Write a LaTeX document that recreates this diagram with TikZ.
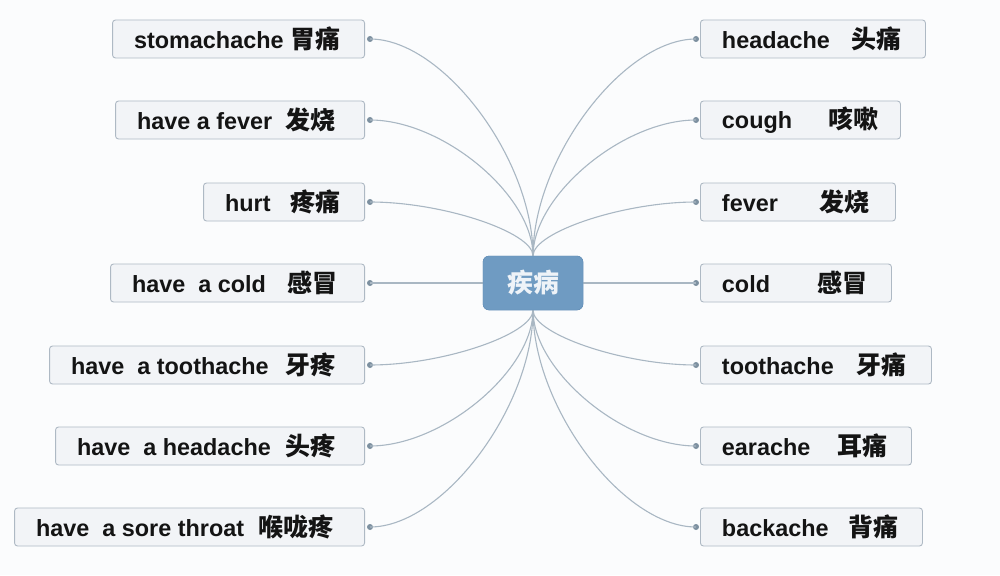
\documentclass[tikz,border=0pt]{standalone}
\usepackage{fontspec}
\setmainfont{Liberation Sans}
\newfontfamily\cjk{Noto Sans CJK SC}
\definecolor{bgc}{HTML}{FBFCFD}
\definecolor{boxfill}{HTML}{F2F4F7}
\definecolor{boxline}{HTML}{AEB9C4}
\definecolor{linkc}{HTML}{A9B7C3}
\definecolor{dotc}{HTML}{7D90A0}
\definecolor{hubfill}{HTML}{6F9BC2}
\definecolor{hubline}{HTML}{6590B8}
\definecolor{hubtext}{HTML}{EEF3F8}
% #1 box width, #2 right gap, #3 english, #4 chinese
\newcommand\leafbox[4]{\hspace*{21.5pt}\makebox[\dimexpr#1pt-21.5pt-#2pt\relax]{#3\hfill{\cjk\fontsize{25}{27}\selectfont #4}}\hspace*{#2pt}}
\tikzset{
  leaf/.style={draw=boxline, fill=boxfill, line width=0.9pt, rounded corners=3pt,
    minimum height=38pt, inner xsep=0pt, inner ysep=0pt,
    font=\bfseries\fontsize{23.4}{27}\selectfont, text=black!92},
  hub/.style={draw=hubline, fill=hubfill, rounded corners=6pt, minimum width=100pt,
    minimum height=54pt, inner sep=0pt, text=hubtext,
    font=\cjk\bfseries\fontsize{26}{28}\selectfont},
  knob/.style={circle, fill=dotc, inner sep=0pt, minimum size=6pt},
  link/.style={draw=linkc, line width=1.1pt}
}
\begin{document}
\begin{tikzpicture}[x=1pt,y=-1pt]
\fill[bgc] (0,0) rectangle (1000,575);
\useasboundingbox (0,0) rectangle (1000,575);
% hub
\node[hub] (c) at (533,283) {疾病};
% left leaves
\node[leaf, anchor=east] (l1) at (365,39) {\leafbox{252}{24}{stomachache}{胃痛}};
\node[leaf, anchor=east] (l2) at (365,120) {\leafbox{249}{29}{have a fever}{发烧}};
\node[leaf, anchor=east] (l3) at (365,202) {\leafbox{161}{24}{hurt}{疼痛}};
\node[leaf, anchor=east] (l4) at (365,283) {\leafbox{254}{27}{have~ a cold}{感冒}};
\node[leaf, anchor=east] (l5) at (365,365) {\leafbox{315}{29}{have~ a toothache}{牙疼}};
\node[leaf, anchor=east] (l6) at (365,446) {\leafbox{309}{29}{have~ a headache}{头疼}};
\node[leaf, anchor=east] (l7) at (365,527) {\leafbox{350}{31}{have~ a sore throat}{喉咙疼}};
% right leaves
\node[leaf, anchor=west] (r1) at (700,39) {\leafbox{225}{24}{headache}{头痛}};
\node[leaf, anchor=west] (r2) at (700,120) {\leafbox{200}{22}{cough}{咳嗽}};
\node[leaf, anchor=west] (r3) at (700,202) {\leafbox{195}{26}{fever}{发烧}};
\node[leaf, anchor=west] (r4) at (700,283) {\leafbox{191}{24}{cold}{感冒}};
\node[leaf, anchor=west] (r5) at (700,365) {\leafbox{231}{25}{toothache}{牙痛}};
\node[leaf, anchor=west] (r6) at (700,446) {\leafbox{211}{24}{earache}{耳痛}};
\node[leaf, anchor=west] (r7) at (700,527) {\leafbox{222}{24}{backache}{背痛}};
% knobs
\foreach \i/\y in {1/39,2/120,3/202,4/283,5/365,6/446,7/527}{
  \node[knob] (dl\i) at (370,\y) {};
  \node[knob] (dr\i) at (696,\y) {};
}
% links upward
\foreach \i/\y in {1/39,2/120,3/202}{
  \pgfmathsetmacro\cy{257-0.45*(257-\y)}
  \draw[link] (c.north) .. controls (533,\cy) and (443,\y) .. (dl\i.center);
  \draw[link] (c.north) .. controls (533,\cy) and (623,\y) .. (dr\i.center);
}
% links downward
\foreach \i/\y in {5/365,6/446,7/527}{
  \pgfmathsetmacro\cy{309+0.45*(\y-309)}
  \draw[link] (c.south) .. controls (533,\cy) and (443,\y) .. (dl\i.center);
  \draw[link] (c.south) .. controls (533,\cy) and (623,\y) .. (dr\i.center);
}
\draw[link] (c.west) -- (dl4.center);
\draw[link] (c.east) -- (dr4.center);
\node[hub] at (c) {疾病};
\end{tikzpicture}
\end{document}
